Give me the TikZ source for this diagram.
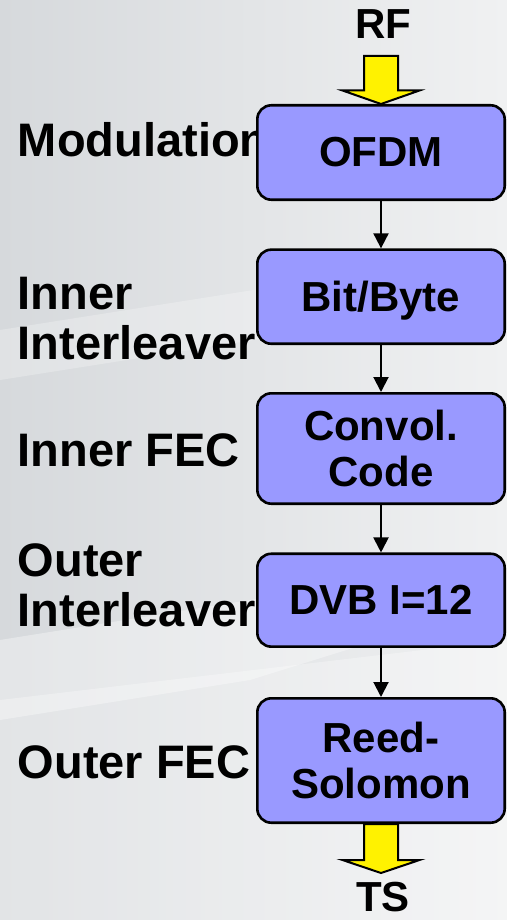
\documentclass[tikz,border=0pt]{standalone}
\usepackage{fontspec}
\setmainfont{Liberation Sans}
\usetikzlibrary{arrows.meta,calc}
\definecolor{boxfill}{HTML}{9999FF}
\definecolor{bgL}{HTML}{D6D9DC}
\definecolor{bgR}{HTML}{F0F1F2}
\begin{document}
\begin{tikzpicture}[x=0.5pt,y=-0.5pt,
  lbl/.style={anchor=north west,inner sep=0pt,align=left,font=\fontsize{23.5}{25.25}\selectfont\bfseries},
  blk/.style={draw=black,line width=1.3pt,rounded corners=7pt,fill=boxfill,minimum width=123.7pt,align=center,inner sep=0pt,font=\fontsize{21}{22.75}\selectfont\bfseries},
  conn/.style={line width=1pt,-{Triangle[width=7.5pt,length=7.5pt]}},
  yarrow/.style={draw=black,line width=1pt,fill=yellow,line join=miter},
  term/.style={font=\fontsize{21}{23}\selectfont\bfseries,inner sep=0pt}]
% background
\useasboundingbox (0,0) rectangle (507,920);
\fill[left color=bgL,right color=bgR] (0,0) rectangle (507,920);
\fill[white,opacity=0.35] (0,640) -- (250,600) -- (507,560) -- (507,600) -- (250,680) -- (0,720) -- cycle;
\fill[white,opacity=0.25] (0,330) -- (507,250) -- (507,300) -- (0,380) -- cycle;
\fill[white,opacity=0.3] (0,700) -- (507,640) -- (507,920) -- (0,920) -- cycle;

% labels
\node[lbl] (lmod) at (17.5,121.7) {Modulation};
\node[lbl] (linl) at (17.5,276.7) {Inner\\Interleaver};
\node[lbl] (lifec) at (17.5,433) {Inner FEC};
\node[lbl] (lout) at (17.5,543) {Outer\\Interleaver};
\node[lbl] (lofec) at (17.5,745) {Outer FEC};

% blocks
\node[blk,minimum height=47.2pt] (ofdm) at (381,152.5) {OFDM};
\node[blk,minimum height=47.05pt,text depth=0pt] (bit) at (381,296.7) {Bit/Byte};
\node[blk,minimum height=55.2pt] (conv) at (381,448.5) {Convol.\\Code};
\node[blk,minimum height=46.45pt] (dvb) at (381,600.2) {DVB I=12};
\node[blk,minimum height=62.2pt] (rs) at (381,760.5) {Reed-\\Solomon};

% connectors
\draw[conn] (ofdm) -- (bit);
\draw[conn] (bit) -- (conv);
\draw[conn] (conv) -- (dvb);
\draw[conn] (dvb) -- (rs);

% RF input arrow
\node[term] (rf) at (383,24) {RF};
\coordinate (rftip) at (ofdm.north);
\draw[yarrow] ([shift={(-17,-48)}]rftip) -- ([shift={(17,-48)}]rftip)
  -- ([shift={(17,-13.5)}]rftip) -- ([shift={(38.5,-13.5)}]rftip) -- (rftip)
  -- ([shift={(-38.5,-13.5)}]rftip) -- ([shift={(-17,-13.5)}]rftip) -- cycle;

% TS output arrow
\node[term] (ts) at (383,897) {TS};
\coordinate (tsbase) at (rs.south);
\draw[yarrow] ([shift={(-17,0)}]tsbase) -- ([shift={(17,0)}]tsbase)
  -- ([shift={(17,36)}]tsbase) -- ([shift={(38.5,36)}]tsbase) -- ([shift={(0,49)}]tsbase)
  -- ([shift={(-38.5,36)}]tsbase) -- ([shift={(-17,36)}]tsbase) -- cycle;
\end{tikzpicture}
\end{document}
